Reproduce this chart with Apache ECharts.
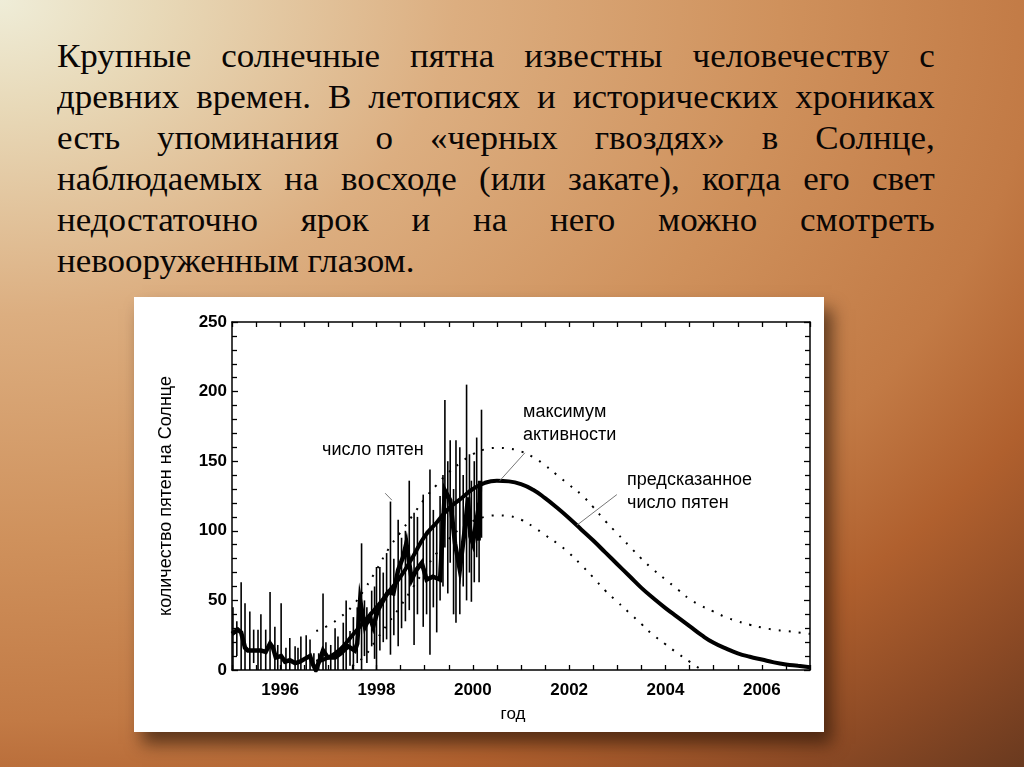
<!DOCTYPE html>
<html lang="ru">
<head>
<meta charset="utf-8">
<title>Солнечные пятна</title>
<script src="https://cdn.jsdelivr.net/npm/echarts@6/dist/echarts.min.js"></script>
<style>
  html, body { margin: 0; padding: 0; width: 1024px; height: 767px; overflow: hidden; }
  body {
    position: relative;
    background: radial-gradient(ellipse 1300px 900px at 0 0,
      #efedd8 0%, #e8d9b8 12%, #dcae80 35%, #cf915c 60%, #c27a45 80%, #b0602e 92%, #8c4a25 105%, #4e2c1a 125%);
  }
  #text {
    position: absolute; left: 57px; top: 36px; width: 828px;
    transform: scaleX(1.06); transform-origin: 0 0;
    font-family: "Liberation Serif", "Times New Roman", serif;
    font-size: 33px; line-height: 41px; color: #0a0604;
  }
  #text div { text-align: justify; text-align-last: justify; white-space: nowrap; }
  #text div.last { text-align-last: left; }
  #chart {
    position: absolute; left: 134px; top: 297px; width: 690px; height: 435px;
    background: #ffffff;
    box-shadow: 8px 12px 16px rgba(40, 20, 8, 0.65);
  }
</style>
</head>
<body>
<div id="text">
  <div>Крупные солнечные пятна известны человечеству с</div>
  <div>древних времен. В летописях и исторических хрониках</div>
  <div>есть упоминания о «черных гвоздях» в Солнце,</div>
  <div>наблюдаемых на восходе (или закате), когда его свет</div>
  <div>недостаточно ярок и на него можно смотреть</div>
  <div class="last">невооруженным глазом.</div>
</div>
<div id="chart"></div>
<script>
// ---- data ----
const xTickYears = [1996, 1998, 2000, 2002, 2004, 2006];

// thin spikes: observed extremes
const spikeYears = [1995.02,1995.10,1995.19,1995.27,1995.37,1995.45,1995.54,1995.60,1995.70,1995.79,1995.89,1995.95,
  1996.02,1996.12,1996.20,1996.31,1996.37,1996.43,1996.54,1996.62,1996.70,1996.80,1996.89,1996.95,
  1997.05,1997.14,1997.20,1997.31,1997.37,1997.45,1997.52,1997.60,1997.69,1997.75,1997.80,1997.90,1997.96,
  1998.00,1998.07,1998.14,1998.21,1998.29,1998.36,1998.45,1998.52,1998.60,1998.68,1998.78,1998.85,1998.97,
  1999.04,1999.11,1999.18,1999.25,1999.32,1999.38,1999.42,1999.48,1999.53,1999.60,1999.65,1999.73,1999.80,
  1999.87,1999.93,1999.97,2000.03,2000.08,2000.13,2000.18];
const spikeLow  = [0,10,0,0,0,5,0,0,0,0,0,0,
  0,0,0,0,0,0,0,0,0,0,0,0,
  0,0,0,0,0,3,0,5,0,10,5,17,8,
  0,14,20,22,11,25,17,30,35,43,18,40,31,
  40,11,45,27,50,60,88,55,77,40,34,40,60,
  50,70,49,63,81,63,95];
const spikeHigh = [45,35,63,48,42,29,29,40,29,56,31,18,
  48,16,23,17,16,24,25,22,12,12,55,20,
  18,30,24,34,50,28,38,45,91,50,45,57,60,
  74,74,70,84,121,80,108,95,100,136,113,110,126,
  100,144,115,105,125,140,194,150,165,130,165,160,140,
  205,155,136,150,167,115,187];

// thick line: smoothed observed values
const obsYears = [1995.00,1995.12,1995.19,1995.27,1995.33,1995.48,1995.60,1995.70,1995.79,1995.85,1995.91,
  1996.02,1996.10,1996.20,1996.31,1996.41,1996.51,1996.62,1996.68,1996.74,1996.82,1996.89,1996.99,
  1997.14,1997.26,1997.41,1997.55,1997.60,1997.66,1997.76,1997.86,1997.93,
  1998.03,1998.14,1998.24,1998.35,1998.45,1998.55,1998.62,1998.73,1998.83,1998.94,
  1999.04,1999.17,1999.32,1999.42,1999.53,1999.63,1999.73,1999.84,1999.90,1999.95,
  2000.00,2000.08,2000.12,2000.15];
const obsValues = [26,29,27,16,14,14,14,13,19,16,9,
  10,6,7,5,6,8,10,4,0,7,14,9,
  9,12,17,14,19,50,31,38,31,
  43,50,56,55,72,81,91,65,72,77,
  65,67,65,129,122,91,72,103,124,96,
  91,108,93,136];

// predicted sunspot number (every quarter year)
const predYears = [1996.75,1997.00,1997.25,1997.50,1997.75,1998.00,1998.25,1998.50,1998.75,1999.00,1999.25,1999.50,1999.75,
  2000.00,2000.25,2000.50,2000.75,2001.00,2001.25,2001.50,2001.75,2002.00,2002.25,2002.50,2002.75,
  2003.00,2003.25,2003.50,2003.75,2004.00,2004.25,2004.50,2004.75,2005.00,2005.25,2005.50,2005.75,
  2006.00,2006.25,2006.50,2006.75,2007.00];
const predValues = [6,9,15,25,35,45,56,67,81,96,106,116,123,
  130,134.5,136,135.5,133.5,129.5,123.5,116.5,109,101,93,84.5,
  76,67.5,59,51.5,44.5,38,31.5,25,19.5,15.5,12,9.5,
  7.5,5.5,4,3,2];

// upper dotted bound
const upperYears = [1996.75,1997.00,1997.25,1997.50,1997.75,1998.00,1998.25,1998.50,1998.75,1999.00,1999.25,1999.50,1999.75,
  2000.00,2000.25,2000.50,2000.75,2001.00,2001.25,2001.50,2001.75,2002.00,2002.25,2002.50,2002.75,
  2003.00,2003.25,2003.50,2003.75,2004.00,2004.25,2004.50,2004.75,2005.00,2005.25,2005.50,2005.75,
  2006.00,2006.25,2006.50,2006.75,2007.00];
const upperValues = [28,32,38,46,58,72,87,99,111,123,133,142,149,
  155,158.5,159.5,159,157,153,147,140,133,126,117,107,
  98,89,80,72,65,58,51,46,42,38,35,32.5,
  30.5,29,28,27,26];

// lower dotted bound
const lowerYears = [1997.50,1997.75,1998.00,1998.25,1998.50,1998.75,1999.00,1999.25,1999.50,1999.75,
  2000.00,2000.25,2000.50,2000.75,2001.00,2001.25,2001.50,2001.75,2002.00,2002.25,2002.50,2002.75,
  2003.00,2003.25,2003.50,2003.75,2004.00,2004.25,2004.50,2004.75];
const lowerValues = [3,10,22,34,46,59,72,84,94,102,
  107,110,111,110.5,108,103,97,91,84,75.5,66.5,57,
  49,41,33,25,18.5,12,6,0];

// annotation leader lines [year, value] pairs
const leaderMax = [[2000.56, 136], [2001.08, 156]];
const leaderPred = [[2002.16, 104], [2002.99, 126]];
const leaderSpots = [[1998.18, 127], [1998.32, 122]];

const zip = (xs, ys) => xs.map((x, i) => [x, ys[i]]);

// ---- chart ----
const chart = echarts.init(document.getElementById('chart'), null, { renderer: 'canvas' });
const tickFont = "'Liberation Sans', Arial, sans-serif";
const textFont = "'Liberation Sans', Arial, sans-serif";
const axisLine = { show: true, onZero: false, lineStyle: { color: '#000', width: 1.5 } };
const axisTick = { show: true, inside: true, length: 5, lineStyle: { color: '#000', width: 1.3 } };
const minorTick = { show: true, splitNumber: 5, length: 5, lineStyle: { color: '#000', width: 1.3 } };

const option = {
  backgroundColor: '#ffffff',
  animation: false,
  grid: { left: 98, right: 14, top: 25, bottom: 62, containLabel: false },
  xAxis: [
    {
      type: 'value', min: 1995, max: 2007, interval: 0.5, position: 'bottom',
      axisLine: axisLine, axisTick: axisTick, splitLine: { show: false },
      axisLabel: {
        margin: 12, color: '#000', fontFamily: tickFont, fontWeight: 'bold', fontSize: 17,
        formatter: v => (xTickYears.indexOf(v) >= 0 ? String(v) : '')
      },
      name: 'год', nameLocation: 'middle', nameGap: 36,
      nameTextStyle: { color: '#000', fontFamily: textFont, fontSize: 17, padding: [0, 16, 0, 0] }
    },
    {
      type: 'value', min: 1995, max: 2007, interval: 0.5, position: 'top',
      axisLine: axisLine, axisTick: axisTick, axisLabel: { show: false }, splitLine: { show: false }
    }
  ],
  yAxis: [
    {
      type: 'value', min: 0, max: 250, interval: 50, position: 'left',
      axisLine: axisLine, axisTick: Object.assign({}, axisTick, { length: 6 }),
      minorTick: minorTick, splitLine: { show: false },
      axisLabel: { margin: 5, color: '#000', fontFamily: tickFont, fontWeight: 'bold', fontSize: 17 },
      name: 'количество пятен на Солнце', nameLocation: 'middle', nameGap: 57, nameRotate: 90,
      nameTextStyle: { color: '#000', fontFamily: textFont, fontSize: 18 }
    },
    {
      type: 'value', min: 0, max: 250, interval: 50, position: 'right',
      axisLine: axisLine, axisTick: Object.assign({}, axisTick, { length: 6 }),
      minorTick: minorTick, splitLine: { show: false }, axisLabel: { show: false }
    }
  ],
  series: [
    {
      type: 'custom', name: 'spikes', silent: true, clip: true,
      data: spikeYears.map((y, i) => [y, spikeLow[i], spikeHigh[i]]),
      encode: { x: 0, y: [1, 2] },
      renderItem: (params, api) => {
        const p1 = api.coord([api.value(0), api.value(1)]);
        const p2 = api.coord([api.value(0), api.value(2)]);
        return { type: 'line', shape: { x1: p1[0], y1: p1[1], x2: p2[0], y2: p2[1] },
          style: { stroke: '#000', lineWidth: 1.6 } };
      }
    },
    {
      type: 'line', name: 'upper', data: zip(upperYears, upperValues), smooth: true, showSymbol: false, silent: true,
      lineStyle: { color: '#000', width: 2, type: [2, 8] }
    },
    {
      type: 'line', name: 'lower', data: zip(lowerYears, lowerValues), smooth: true, showSymbol: false, silent: true,
      lineStyle: { color: '#000', width: 2, type: [2, 8] }
    },
    {
      type: 'line', name: 'observed', data: zip(obsYears, obsValues), showSymbol: false, silent: true,
      lineStyle: { color: '#000', width: 4.5, join: 'miter' }
    },
    {
      type: 'line', name: 'predicted', data: zip(predYears, predValues), smooth: true, showSymbol: false, silent: true,
      lineStyle: { color: '#000', width: 4 }
    },
    { type: 'line', data: leaderMax, showSymbol: false, silent: true, lineStyle: { color: '#777', width: 1 } },
    { type: 'line', data: leaderPred, showSymbol: false, silent: true, lineStyle: { color: '#777', width: 1 } },
    { type: 'line', data: leaderSpots, showSymbol: false, silent: true, lineStyle: { color: '#777', width: 1 } }
  ],
  graphic: [
    { type: 'text', style: { x: 188, y: 153, text: 'число пятен', fill: '#000', font: "18px 'Liberation Sans', Arial, sans-serif", verticalAlign: 'middle' } },
    { type: 'text', style: { x: 389, y: 115, text: 'максимум', fill: '#000', font: "18px 'Liberation Sans', Arial, sans-serif", verticalAlign: 'middle' } },
    { type: 'text', style: { x: 389, y: 138, text: 'активности', fill: '#000', font: "18px 'Liberation Sans', Arial, sans-serif", verticalAlign: 'middle' } },
    { type: 'text', style: { x: 493, y: 183, text: 'предсказанное', fill: '#000', font: "18px 'Liberation Sans', Arial, sans-serif", verticalAlign: 'middle' } },
    { type: 'text', style: { x: 493, y: 206, text: 'число пятен', fill: '#000', font: "18px 'Liberation Sans', Arial, sans-serif", verticalAlign: 'middle' } }
  ]
};
chart.setOption(option);
</script>
</body>
</html>
